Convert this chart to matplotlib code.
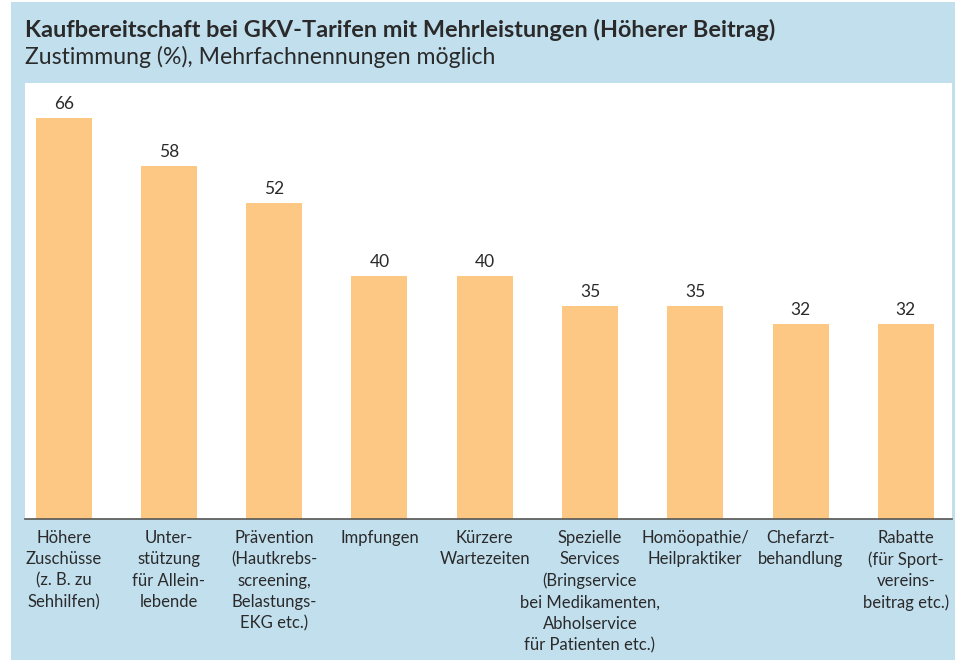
import matplotlib
matplotlib.use("Agg")
import matplotlib.pyplot as plt
from matplotlib.patches import Rectangle

categories = [
    "Höhere\nZuschüsse\n(z. B. zu\nSehhilfen)",
    "Unter-\nstützung\nfür Allein-\nlebende",
    "Prävention\n(Hautkrebs-\nscreening,\nBelastungs-\nEKG etc.)",
    "Impfungen",
    "Kürzere\nWartezeiten",
    "Spezielle\nServices\n(Bringservice\nbei Medikamenten,\nAbholservice\nfür Patienten etc.)",
    "Homöopathie/\nHeilpraktiker",
    "Chefarzt-\nbehandlung",
    "Rabatte\n(für Sport-\nvereins-\nbeitrag etc.)",
]
values = [66, 58, 52, 40, 40, 35, 35, 32, 32]

title = "Kaufbereitschaft bei GKV-Tarifen mit Mehrleistungen (Höherer Beitrag)"
subtitle = "Zustimmung (%), Mehrfachnennungen möglich"

W, H = 955, 660
fig = plt.figure(figsize=(W / 100, H / 100), dpi=100)
fig.patch.set_facecolor("white")
blue = "#c2dfee"
fig.patches.append(Rectangle((11 / W, 0), (W - 11) / W, (H - 2) / H,
                             transform=fig.transFigure, facecolor=blue,
                             edgecolor="none", zorder=-5))

font = "Lato"
txt = "#2a2a2a"
fig.text(25 / W, 1 - 30 / H, title, fontsize=16.9, fontweight="bold",
         family=font, color=txt, va="center", ha="left")
fig.text(25 / W, 1 - 57 / H, subtitle, fontsize=16.6, family=font,
         color=txt, va="center", ha="left")

ax = fig.add_axes([25 / W, 1 - 519 / H, (952 - 25) / W, (519 - 83) / H])
ax.set_zorder(2)
ax.set_facecolor("white")
x = list(range(len(values)))
bars = ax.bar(x, values, width=0.532, color="#fdc883", zorder=2)
for xi, v in zip(x, values):
    ax.text(xi, v + 1.0, str(v), ha="center", va="bottom", fontsize=12.5,
            family=font, color=txt)
ax.set_xlim(-0.367, 8.439)
ax.set_ylim(0, 71.7)
ax.set_yticks([])
ax.set_xticks(x)
ax.set_xticklabels(categories, fontsize=12, family=font, color=txt,
                   linespacing=1.4, va="top")
ax.tick_params(axis="x", length=0, pad=8)
for s in ["top", "left", "right"]:
    ax.spines[s].set_visible(False)
ax.spines["bottom"].set_color("#555555")
ax.spines["bottom"].set_linewidth(1.2)

fig.savefig("out.png", dpi=100)
